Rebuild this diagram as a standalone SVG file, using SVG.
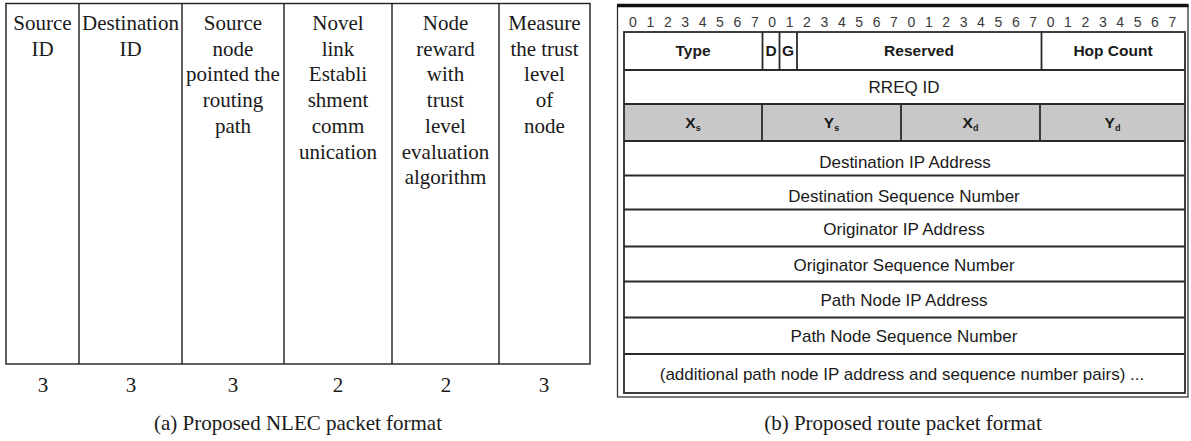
<svg xmlns="http://www.w3.org/2000/svg" width="1191" height="441" viewBox="0 0 1191 441">
<style>
.bg{fill:#ffffff}
.tl{stroke:#1e1e1e;stroke-width:1.4;fill:none}
.st{font-family:"Liberation Serif","Times New Roman",serif;font-size:21px;fill:#1a1a1a;text-anchor:middle}
.rl{stroke:#2a2a2a;stroke-width:1.8;fill:none}
.sn{font-family:"Liberation Sans",Arial,sans-serif;font-size:17px;fill:#1a1a1a;text-anchor:middle}
.sb{font-family:"Liberation Sans",Arial,sans-serif;font-size:15.5px;font-weight:bold;fill:#1a1a1a;text-anchor:middle}
.bits{font-family:"Liberation Sans",Arial,sans-serif;font-size:14px;fill:#3a3a3a;text-anchor:middle}
.gray{fill:#c8c8c8}
.sub{font-size:9px}
</style>
<rect class="bg" x="0" y="0" width="1191" height="441"/>

<!-- (a) NLEC packet format -->
<g id="nlec-table">
<rect class="tl" x="6" y="3.5" width="584" height="360.5"/>
<line class="tl" x1="79" y1="3.5" x2="79" y2="364"/>
<line class="tl" x1="182" y1="3.5" x2="182" y2="364"/>
<line class="tl" x1="284" y1="3.5" x2="284" y2="364"/>
<line class="tl" x1="392" y1="3.5" x2="392" y2="364"/>
<line class="tl" x1="499" y1="3.5" x2="499" y2="364"/>
</g>
<g id="col-source-id">
<text class="st" x="42.5" y="30">Source</text>
<text class="st" x="42.5" y="55.7">ID</text>
<text class="st" x="43" y="392">3</text>
</g>
<g id="col-destination-id">
<text class="st" x="130.5" y="30">Destination</text>
<text class="st" x="130.5" y="55.7">ID</text>
<text class="st" x="131" y="392">3</text>
</g>
<g id="col-source-node">
<text class="st" x="233" y="30">Source</text>
<text class="st" x="233" y="55.7">node</text>
<text class="st" x="233" y="81.4">pointed the</text>
<text class="st" x="233" y="107.1">routing</text>
<text class="st" x="233" y="132.8">path</text>
<text class="st" x="233" y="392">3</text>
</g>
<g id="col-novel-link">
<text class="st" x="338" y="30">Novel</text>
<text class="st" x="338" y="55.7">link</text>
<text class="st" x="338" y="81.4">Establi</text>
<text class="st" x="338" y="107.1">shment</text>
<text class="st" x="338" y="132.8">comm</text>
<text class="st" x="338" y="158.5">unication</text>
<text class="st" x="338" y="392">2</text>
</g>
<g id="col-node-reward">
<text class="st" x="445.5" y="30">Node</text>
<text class="st" x="445.5" y="55.7">reward</text>
<text class="st" x="445.5" y="81.4">with</text>
<text class="st" x="445.5" y="107.1">trust</text>
<text class="st" x="445.5" y="132.8">level</text>
<text class="st" x="445.5" y="158.5">evaluation</text>
<text class="st" x="445.5" y="184.2">algorithm</text>
<text class="st" x="446" y="392">2</text>
</g>
<g id="col-measure-trust">
<text class="st" x="544.5" y="30">Measure</text>
<text class="st" x="544.5" y="55.7">the trust</text>
<text class="st" x="544.5" y="81.4">level</text>
<text class="st" x="544.5" y="107.1">of</text>
<text class="st" x="544.5" y="132.8">node</text>
<text class="st" x="544" y="392">3</text>
</g>
<text class="st" x="298" y="430">(a) Proposed NLEC packet format</text>

<!-- (b) route packet format -->
<g id="route-frame">
<rect x="617.5" y="5.5" width="570.5" height="391.5" fill="none" stroke="#333" stroke-width="1.3"/>
<line x1="617" y1="5.5" x2="1188.5" y2="5.5" stroke="#111" stroke-width="3.5"/>
<rect class="gray" x="624" y="104" width="561" height="37"/>
<rect class="rl" x="624" y="32" width="561" height="361"/>
</g>
<g id="bit-numbers">
<text class="bits" x="633" y="27">0</text><text class="bits" x="650.4" y="27">1</text><text class="bits" x="667.8" y="27">2</text><text class="bits" x="685.2" y="27">3</text><text class="bits" x="702.6" y="27">4</text><text class="bits" x="720" y="27">5</text><text class="bits" x="737.4" y="27">6</text><text class="bits" x="754.8" y="27">7</text>
<text class="bits" x="772.2" y="27">0</text><text class="bits" x="789.6" y="27">1</text><text class="bits" x="807" y="27">2</text><text class="bits" x="824.4" y="27">3</text><text class="bits" x="841.8" y="27">4</text><text class="bits" x="859.2" y="27">5</text><text class="bits" x="876.6" y="27">6</text><text class="bits" x="894" y="27">7</text>
<text class="bits" x="911.4" y="27">0</text><text class="bits" x="928.8" y="27">1</text><text class="bits" x="946.2" y="27">2</text><text class="bits" x="963.6" y="27">3</text><text class="bits" x="981" y="27">4</text><text class="bits" x="998.4" y="27">5</text><text class="bits" x="1015.8" y="27">6</text><text class="bits" x="1033.2" y="27">7</text>
<text class="bits" x="1050.6" y="27">0</text><text class="bits" x="1068" y="27">1</text><text class="bits" x="1085.4" y="27">2</text><text class="bits" x="1102.8" y="27">3</text><text class="bits" x="1120.2" y="27">4</text><text class="bits" x="1137.6" y="27">5</text><text class="bits" x="1155" y="27">6</text><text class="bits" x="1172.4" y="27">7</text>
</g>
<g id="row-lines">
<line class="rl" x1="624" y1="70" x2="1185" y2="70"/>
<line class="rl" x1="624" y1="104" x2="1185" y2="104"/>
<line class="rl" x1="624" y1="141" x2="1185" y2="141"/>
<line class="rl" x1="624" y1="175.5" x2="1185" y2="175.5"/>
<line class="rl" x1="624" y1="209.5" x2="1185" y2="209.5"/>
<line class="rl" x1="624" y1="246.5" x2="1185" y2="246.5"/>
<line class="rl" x1="624" y1="281.5" x2="1185" y2="281.5"/>
<line class="rl" x1="624" y1="317.5" x2="1185" y2="317.5"/>
<line class="rl" x1="624" y1="354" x2="1185" y2="354"/>
<line class="rl" x1="762.5" y1="32" x2="762.5" y2="70"/>
<line class="rl" x1="779.5" y1="32" x2="779.5" y2="70"/>
<line class="rl" x1="797" y1="32" x2="797" y2="70"/>
<line class="rl" x1="1041.5" y1="32" x2="1041.5" y2="70"/>
<line class="rl" x1="762" y1="104" x2="762" y2="141"/>
<line class="rl" x1="901" y1="104" x2="901" y2="141"/>
<line class="rl" x1="1040" y1="104" x2="1040" y2="141"/>
</g>
<g id="field-type"><text class="sb" x="693" y="56">Type</text></g>
<g id="field-d"><text class="sb" x="771" y="56">D</text></g>
<g id="field-g"><text class="sb" x="788" y="56">G</text></g>
<g id="field-reserved"><text class="sb" x="919" y="56">Reserved</text></g>
<g id="field-hopcount"><text class="sb" x="1113" y="56">Hop Count</text></g>
<g id="field-rreq"><text class="sn" x="904" y="93" font-size="16">RREQ ID</text></g>
<g id="field-xs"><text class="sb" x="693" y="128">X<tspan class="sub" dy="3">s</tspan></text></g>
<g id="field-ys"><text class="sb" x="831.5" y="128">Y<tspan class="sub" dy="3">s</tspan></text></g>
<g id="field-xd"><text class="sb" x="970.5" y="128">X<tspan class="sub" dy="3">d</tspan></text></g>
<g id="field-yd"><text class="sb" x="1112.5" y="128">Y<tspan class="sub" dy="3">d</tspan></text></g>
<g id="field-dest-ip"><text class="sn" x="905" y="168">Destination IP Address</text></g>
<g id="field-dest-seq"><text class="sn" x="904" y="202">Destination Sequence Number</text></g>
<g id="field-orig-ip"><text class="sn" x="904" y="235">Originator IP Address</text></g>
<g id="field-orig-seq"><text class="sn" x="904" y="271">Originator Sequence Number</text></g>
<g id="field-path-ip"><text class="sn" x="904" y="306">Path Node IP Address</text></g>
<g id="field-path-seq"><text class="sn" x="904" y="342">Path Node Sequence Number</text></g>
<g id="field-additional"><text class="sn" x="902" y="380">(additional path node IP address and sequence number pairs) ...</text></g>
<text class="st" x="903" y="430">(b) Proposed route packet format</text>
</svg>
